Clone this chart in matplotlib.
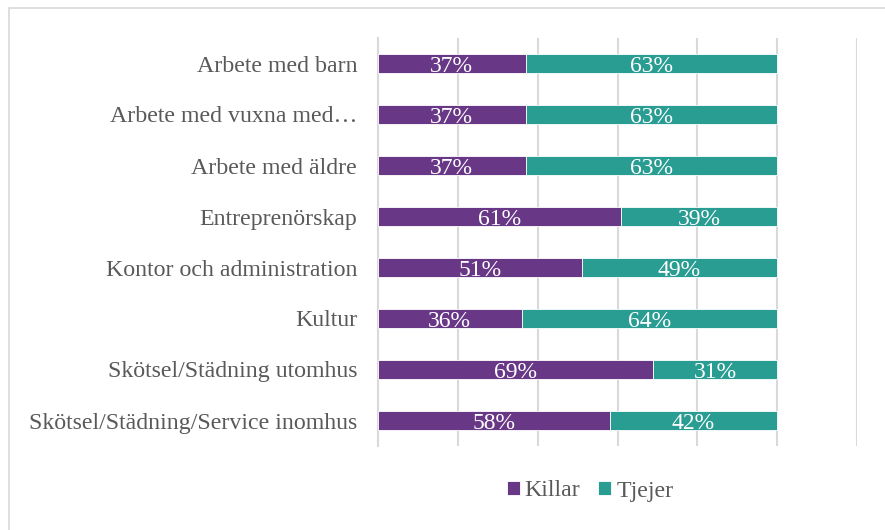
import matplotlib.pyplot as plt
from matplotlib.patches import Rectangle

# data
categories = ['Arbete med barn', 'Arbete med vuxna med…', 'Arbete med äldre',
              'Entreprenörskap', 'Kontor och administration', 'Kultur',
              'Skötsel/Städning utomhus', 'Skötsel/Städning/Service inomhus']
killar = [37, 37, 37, 61, 51, 36, 69, 58]
tjejer = [63, 63, 63, 39, 49, 64, 31, 42]

purple = '#683887'
teal = '#2A9D93'
grid_col = '#D9D9D9'
text_col = '#595959'

plt.rcParams['font.family'] = ['Liberation Serif', 'DejaVu Serif']

fig = plt.figure(figsize=(8.85, 5.30), dpi=100)
W, H = 885, 530
ax = fig.add_axes([378 / W, 1 - 446 / H, (857 - 378) / W, (446 - 38) / H])

# ram runt figuren
fig.patches.append(Rectangle((9 / W, -0.1), 1.2, 1 - 8 / H + 0.1,
                             transform=fig.transFigure, fill=False,
                             edgecolor=grid_col, linewidth=1.2))

y = list(range(len(categories)))
k_frac = [v / 100 for v in killar]
t_frac = [v / 100 for v in tjejer]
bar_h = 0.39

b1 = ax.barh(y, k_frac, height=bar_h, color=purple, edgecolor='white',
             linewidth=0.6, label='Killar', zorder=3)
b2 = ax.barh(y, t_frac, left=k_frac, height=bar_h, color=teal,
             edgecolor='white', linewidth=0.6, label='Tjejer', zorder=3)

# etiketter: baslinjen strax ovanför stapelns underkant
for yi, k, t in zip(y, k_frac, t_frac):
    base = yi + bar_h / 2 - 0.025
    ax.text(k / 2, base, f'{int(round(k * 100))}%', ha='center', va='baseline',
            color='white', fontsize=17, zorder=4)
    ax.text(k + t / 2, base, f'{int(round(t * 100))}%', ha='center',
            va='baseline', color='white', fontsize=17, zorder=4)

ax.set_xlim(0, 1.2)
ax.set_ylim(len(categories) - 0.5, -0.5)
ax.set_xticks([0.2, 0.4, 0.6, 0.8, 1.0, 1.2])
ax.xaxis.grid(True, color=grid_col, linewidth=1.5, zorder=0)
ax.tick_params(axis='x', length=0, labelbottom=False)
ax.set_yticks(y)
ax.set_yticklabels(categories, fontsize=17.2, color=text_col)
ax.tick_params(axis='y', length=0, pad=15)
for s in ['top', 'right', 'bottom']:
    ax.spines[s].set_visible(False)
ax.spines['left'].set_color(grid_col)
ax.spines['left'].set_linewidth(1.5)

fig.legend(handles=[b1, b2], labels=['Killar', 'Tjejer'], loc='center',
           bbox_to_anchor=(590 / W, 1 - 491 / H), ncol=2, frameon=False,
           fontsize=17.2, labelcolor=text_col, handlelength=0.55,
           handleheight=0.55, handletextpad=0.2, columnspacing=0.75)

fig.savefig('out.png', dpi=100)
